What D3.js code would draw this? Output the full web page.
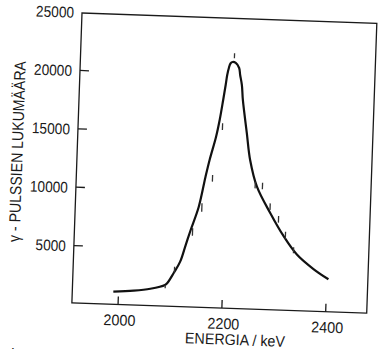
<!DOCTYPE html>
<html>
<head>
<meta charset="utf-8">
<script src="https://cdn.jsdelivr.net/npm/d3@7"></script>
<style>
  html, body { margin: 0; padding: 0; background: #fff; }
  svg { display: block; }
  text { font-family: "Liberation Sans", Arial, sans-serif; fill: #1a1a1a; }
</style>
</head>
<body>
<svg id="chart" width="379" height="349"></svg>
<script>
// Gamma-ray line shape: fitted curve plus measured counts with error bars
const energyTicks = [2000, 2200, 2400];
const countTicks = [5000, 10000, 15000, 20000, 25000];

// fitted line shape (keV, counts)
const fitEnergy = [1991, 2030, 2062, 2090, 2095.0, 2105.9, 2117.6, 2127.1, 2135.7, 2149.6,
  2160.6, 2167.4, 2178.2, 2184.1, 2189.5, 2193.3, 2195.6, 2198.3, 2201.1, 2205.2,
  2211.2, 2218.1, 2220.5, 2224.5, 2227.4, 2237.3, 2245.4, 2260.3, 2287.6, 2314.7,
  2341.7, 2374.6, 2404.1];
const fitCounts = [1130, 1276, 1490, 1858, 2075, 2907, 3896, 5334, 6636, 8630,
  11216, 12684, 14671, 16137, 17858, 19149, 20009, 20614, 21003, 21140,
  21063, 20643, 20048, 19196, 17920, 15078, 12804, 10540, 8331, 6404,
  4858, 3665, 2834];

// measured points
const pointEnergy = [2090.5, 2107.2, 2139.4, 2155.7, 2174.2, 2190.0, 2208.3,
  2256.8, 2270.9, 2287.0, 2304.0, 2318.4, 2335.0];
const pointCounts = [1712, 3194, 6473, 8596, 11126, 15574, 21675,
  10677, 10617, 8870, 7817, 6464, 5206];
const pointErrors = [140, 250, 330, 360, 285, 285, 215,
  285, 285, 285, 285, 315, 255];

const W = 295, H = 290;
const svg = d3.select("#chart");

const g = svg.append("g")
  .attr("transform", "translate(82,13) rotate(2)");

const x = d3.scaleLinear().domain([1912, 2480]).range([0, W]);
const y = d3.scaleLinear().domain([0, 25000]).range([290.6, -1.4]);

// frame
g.append("rect")
  .attr("x", 0).attr("y", 0).attr("width", W).attr("height", H)
  .attr("fill", "none").attr("stroke", "#1a1a1a").attr("stroke-width", 1.3);

// y axis, ticks pointing inwards
const yAxis = g.append("g")
  .call(d3.axisLeft(y).tickValues(countTicks).tickFormat(d3.format("d"))
    .tickSizeInner(-9).tickSizeOuter(0).tickPadding(8));
yAxis.select(".domain").remove();
yAxis.selectAll(".tick line").attr("stroke", "#1a1a1a").attr("stroke-width", 1.3)
  .filter(d => d === 25000).remove();
yAxis.selectAll(".tick text")
  .attr("dy", "0.38em")
  .attr("textLength", d => String(d).length * 7.6)
  .attr("lengthAdjust", "spacingAndGlyphs")
  .style("font-size", "15.5px");

// x axis, ticks pointing inwards
const xAxis = g.append("g")
  .attr("transform", `translate(0,${H})`)
  .call(d3.axisBottom(x).tickValues(energyTicks).tickFormat(d3.format("d"))
    .tickSizeInner(-8).tickSizeOuter(0).tickPadding(10));
xAxis.select(".domain").remove();
xAxis.selectAll(".tick line").attr("stroke", "#1a1a1a").attr("stroke-width", 1.3);
xAxis.selectAll(".tick text")
  .attr("dx", 2)
  .attr("textLength", 32)
  .attr("lengthAdjust", "spacingAndGlyphs")
  .style("font-size", "15.5px");

// axis titles
g.append("text")
  .attr("x", 164.3).attr("y", 326.5)
  .attr("text-anchor", "middle")
  .attr("textLength", 100)
  .attr("lengthAdjust", "spacingAndGlyphs")
  .style("font-size", "15.5px")
  .text("ENERGIA / keV");

g.append("text")
  .attr("transform", "translate(-54.5,140.7) rotate(-90)")
  .attr("text-anchor", "middle")
  .attr("textLength", 181)
  .attr("lengthAdjust", "spacingAndGlyphs")
  .style("font-size", "16px")
  .text("γ - PULSSIEN LUKUMÄÄRA");

// fitted curve
const fit = fitEnergy.map((e, i) => [e, fitCounts[i]]);
g.append("path")
  .datum(fit)
  .attr("fill", "none")
  .attr("stroke", "#111")
  .attr("stroke-width", 2.2)
  .attr("stroke-linejoin", "round")
  .attr("d", d3.line().x(d => x(d[0])).y(d => y(d[1])).curve(d3.curveCatmullRom.alpha(0.5)));

// measured points as error bars
g.append("g").selectAll("line")
  .data(pointEnergy.map((e, i) => ({ e, n: pointCounts[i], s: pointErrors[i] })))
  .join("line")
  .attr("x1", d => x(d.e)).attr("x2", d => x(d.e))
  .attr("y1", d => y(d.n - d.s)).attr("y2", d => y(d.n + d.s))
  .attr("stroke", "#333")
  .attr("stroke-width", 1.3);

// figure caption (mostly below the visible area)
svg.append("text")
  .attr("x", 2).attr("y", 358.5)
  .style("font-size", "15px")
  .text("Fig. 4");
</script>
</body>
</html>
